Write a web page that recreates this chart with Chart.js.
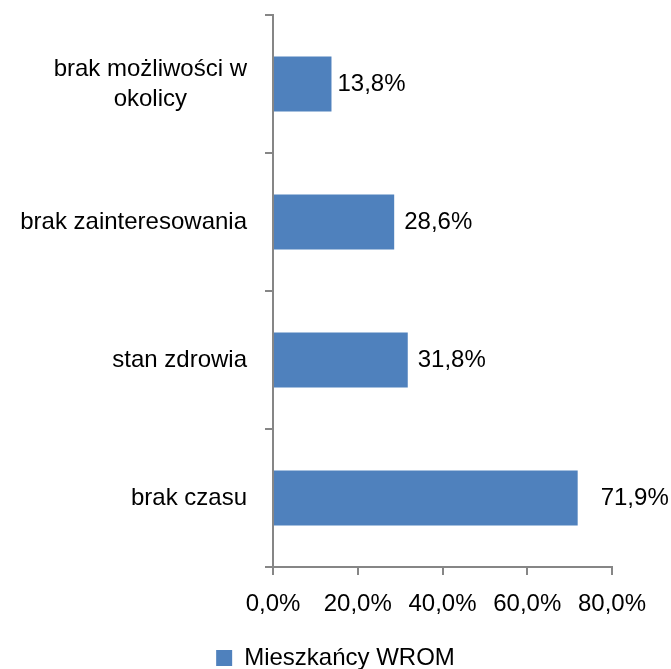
<!DOCTYPE html>
<html>
<head>
<meta charset="utf-8">
<script src="https://cdn.jsdelivr.net/npm/chart.js@4"></script>
<style>
  html, body { margin: 0; padding: 0; background: #fff; }
  #wrap { width: 671px; height: 669px; }
</style>
</head>
<body>
<div id="wrap"><canvas id="chart"></canvas></div>
<script>
// dane z wykresu
const categories = [["brak możliwości w", "okolicy"], "brak zainteresowania", "stan zdrowia", "brak czasu"];
const seriesName = "Mieszkańcy WROM";
const values = [13.8, 28.6, 31.8, 71.9];
const xTicks = [0, 20, 40, 60, 80];

const FONT = "'Liberation Sans', Arial, sans-serif";
const AXIS = "#868686";

function pct(v) {
  return v.toFixed(1).replace(".", ",") + "%";
}

// etykiety kategorii wysrodkowane wzgledem siebie, jak w Excelu
const catLabels = {
  id: "catLabels",
  afterDraw(chart) {
    const ctx = chart.ctx;
    const y = chart.scales.y;
    const right = chart.chartArea.left - 26;
    ctx.save();
    ctx.font = "24px " + FONT;
    ctx.fillStyle = "#000";
    ctx.textAlign = "center";
    ctx.textBaseline = "middle";
    categories.forEach((c, i) => {
      const lines = Array.isArray(c) ? c : [c];
      const w = Math.max(...lines.map(l => ctx.measureText(l).width));
      const cx = right - w / 2;
      const cy = y.getPixelForTick(i);
      const lh = 30;
      lines.forEach((l, k) => {
        ctx.fillText(l, cx, cy + (k - (lines.length - 1) / 2) * lh);
      });
    });
    ctx.restore();
  }
};

// etykiety danych na koncu slupkow
const valueLabels = {
  id: "valueLabels",
  afterDatasetsDraw(chart) {
    const ctx = chart.ctx;
    const meta = chart.getDatasetMeta(0);
    const gaps = [6, 10, 10, 23];
    ctx.save();
    ctx.font = "24px " + FONT;
    ctx.fillStyle = "#000";
    ctx.textAlign = "left";
    ctx.textBaseline = "middle";
    meta.data.forEach((bar, i) => {
      ctx.fillText(pct(values[i]), bar.x + gaps[i], bar.y);
    });
    ctx.restore();
  }
};

new Chart(document.getElementById("chart"), {
  type: "bar",
  data: {
    labels: categories,
    datasets: [{
      label: seriesName,
      data: values,
      backgroundColor: "#4F81BD",
      barPercentage: 0.4,
      categoryPercentage: 1.0
    }]
  },
  options: {
    indexAxis: "y",
    responsive: true,
    maintainAspectRatio: false,
    animation: false,
    layout: { padding: { left: 0, right: 0, top: 15, bottom: -11 } },
    scales: {
      x: {
        min: 0,
        max: 80,
        afterBuildTicks(scale) {
          scale.ticks = xTicks.map(v => ({ value: v }));
        },
        afterFit(scale) { scale.height = 77; },
        grid: { drawOnChartArea: false, drawTicks: true, tickLength: 8, color: AXIS, lineWidth: 2 },
        border: { color: AXIS, width: 2 },
        ticks: {
          color: "#000",
          font: { family: FONT, size: 24 },
          padding: 15,
          callback: v => pct(v)
        }
      },
      y: {
        afterFit(scale) { scale.width = 273; },
        grid: { drawOnChartArea: false, drawTicks: true, tickLength: 8, color: AXIS, lineWidth: 2 },
        border: { color: AXIS, width: 2 },
        ticks: { display: false }
      },
      // pusta os po prawej - tylko zeby zostawic margines
      yPad: {
        type: "linear",
        axis: "y",
        position: "right",
        display: true,
        afterFit(scale) { scale.width = 59; },
        grid: { display: false },
        border: { display: false },
        ticks: { display: false }
      }
    },
    plugins: {
      legend: {
        position: "bottom",
        labels: {
          color: "#000",
          font: { family: FONT, size: 24 },
          boxWidth: 16,
          boxHeight: 16,
          padding: 2
        }
      },
      tooltip: { enabled: false }
    }
  },
  plugins: [catLabels, valueLabels]
});
</script>
</body>
</html>
